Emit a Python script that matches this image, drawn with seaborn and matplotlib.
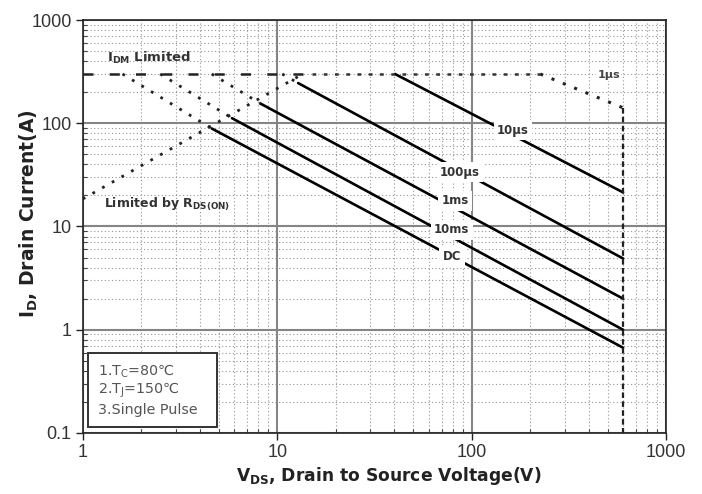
import numpy as np
import pandas as pd
import matplotlib
matplotlib.use("Agg")
import matplotlib.pyplot as plt
from matplotlib.ticker import FixedLocator, FixedFormatter, LogLocator, NullFormatter
from matplotlib.patches import Rectangle
import seaborn as sns

# ---------------- data ----------------
pulse_labels = ["10µs", "100µs", "1ms", "10ms", "DC"]
start_v = [40.3, 12.8, 8.2, 5.85, 4.6]
start_i = [300, 245, 155, 112, 89]
end_v = [600, 600, 600, 600, 600]
end_i = [21.4, 4.9, 2.0, 1.0, 0.67]
ext_v = [40.3, 10.6, 4.6, 2.5, 1.6]          # where dotted extension meets IDM line
label_v = [163, 87, 82, 79, 79]
label_i = [86, 33.7, 17.7, 9.25, 5.07]

idm_level = 300
idm_dash_v = [1, 15]
idm_dot_v = [15, 225]
us1_v = [225, 600]
us1_i = [300, 141]
rds_v = [1, 13.5]
rds_i = [18.5, 300]
vmax_v = [600, 600]
vmax_i = [141, 0.1]

x_ticks = [1, 10, 100, 1000]
x_ticklabels = ["1", "10", "100", "1000"]
y_ticks = [0.1, 1, 10, 100, 1000]
y_ticklabels = ["0.1", "1", "10", "100", "1000"]

note_lines = ["1.T$_C$=80℃", "2.T$_J$=150℃", "3.Single Pulse"]

# ---------------- style ----------------
sns.set_style("white")
plt.rcParams["font.family"] = ["Liberation Sans", "DejaVu Sans"]
plt.rcParams["mathtext.default"] = "regular"
WIDE = "DejaVu Sans"

fig = plt.figure(figsize=(7.02, 4.94), dpi=100)
ax = fig.add_axes([0.118, 0.1235, 0.831, 0.836])
ax.set_xscale("log")
ax.set_yscale("log")
ax.set_xlim(1, 1000)
ax.set_ylim(0.1, 1000)

# grid
ax.grid(which="major", color="#858585", linewidth=1.5, linestyle="-")
ax.grid(which="minor", color="#959595", linewidth=0.8, linestyle=(0, (1, 2.2)))
ax.set_axisbelow(True)

# main SOA curves
main_df = pd.DataFrame({
    "V": [v for pair in zip(start_v, end_v) for v in pair],
    "I": [i for pair in zip(start_i, end_i) for i in pair],
    "curve": [lab for lab in pulse_labels for _ in range(2)],
})
sns.lineplot(data=main_df, x="V", y="I", units="curve", estimator=None,
             sort=False, color="black", linewidth=1.9, ax=ax, legend=False)

# dotted extensions to the IDM line
ext_df = pd.DataFrame({
    "V": [v for pair in zip(ext_v, start_v) for v in pair],
    "I": [i for pair in zip([idm_level] * len(ext_v), start_i) for i in pair],
    "curve": [lab for lab in pulse_labels for _ in range(2)],
})
sns.lineplot(data=ext_df, x="V", y="I", units="curve", estimator=None,
             sort=False, color="#222222", linewidth=2.0,
             linestyle=(0, (1, 3)), ax=ax, legend=False)

def seg(xs, ys, **kw):
    sns.lineplot(x=xs, y=ys, estimator=None, sort=False, ax=ax,
                 legend=False, **kw)

# IDM limit
seg(idm_dash_v, [idm_level] * 2, color="#222222", linewidth=1.8,
    linestyle=(0, (4, 6.5)))
seg(idm_dot_v, [idm_level] * 2, color="#333333", linewidth=1.8,
    linestyle=(0, (1.5, 3)))
# 1 µs curve
seg(us1_v, us1_i, color="#222222", linewidth=2.2, linestyle=(0, (1, 3)))
# RDS(on) limit
seg(rds_v, rds_i, color="#222222", linewidth=2.0, linestyle=(0, (1, 3)))
# VDS max
seg(vmax_v, vmax_i, color="#222222", linewidth=1.6, linestyle=(0, (2.5, 1.5)))

# curve labels
for lab, lv, li in zip(pulse_labels, label_v, label_i):
    ax.text(lv, li, lab, ha="center", va="center", fontsize=8.5,
            family=WIDE, fontweight="bold", color="#333333", zorder=5,
            bbox=dict(facecolor="white", edgecolor="none", pad=2.5))
ax.text(505, 293, "1µs", ha="center", va="center", fontsize=8,
        family=WIDE, fontweight="bold", color="#444444", zorder=5,
        bbox=dict(facecolor="white", edgecolor="none", pad=1))

ax.text(1.33, 430, "I$_{DM}$ Limited", ha="left", va="center", fontsize=9.5,
        family=WIDE, fontweight="bold", color="#333333", zorder=5)
ax.text(1.28, 16.2, "Limited by R$_{DS(ON)}$", ha="left", va="center",
        fontsize=9, family=WIDE, fontweight="bold", color="#333333",
        zorder=5)

# note box
ax.add_patch(Rectangle((0.0086, 0.0145), 0.222, 0.18, transform=ax.transAxes,
                       facecolor="white", edgecolor="#333333", linewidth=1.4,
                       zorder=6))
for k, line in enumerate(note_lines):
    ax.text(0.026, 0.150 - k * 0.047, line, transform=ax.transAxes,
            ha="left", va="center", fontsize=10.3, family=WIDE,
            color="#555555", zorder=7)

# ticks
ax.xaxis.set_major_locator(FixedLocator(x_ticks))
ax.xaxis.set_major_formatter(FixedFormatter(x_ticklabels))
ax.yaxis.set_major_locator(FixedLocator(y_ticks))
ax.yaxis.set_major_formatter(FixedFormatter(y_ticklabels))
ax.xaxis.set_minor_locator(LogLocator(base=10, subs=np.arange(2, 10)))
ax.yaxis.set_minor_locator(LogLocator(base=10, subs=np.arange(2, 10)))
ax.xaxis.set_minor_formatter(NullFormatter())
ax.yaxis.set_minor_formatter(NullFormatter())
ax.tick_params(which="major", direction="out", length=5, width=1,
               labelsize=13, labelcolor="#333333", color="#222222", pad=3,
               bottom=True, left=True)
ax.tick_params(which="minor", direction="in", length=3, width=0.8,
               color="#444444", bottom=True, left=True)

for s in ax.spines.values():
    s.set_color("#222222")
    s.set_linewidth(1.2)

ax.set_xlabel("V$_{DS}$, Drain to Source Voltage(V)", fontsize=12.3,
              family=WIDE, fontweight="bold", color="#222222")
ax.set_ylabel("I$_D$, Drain Current(A)", fontsize=13.5, family=WIDE,
              fontweight="bold", color="#222222")
ax.xaxis.set_label_coords(0.525, -0.077)
ax.yaxis.set_label_coords(-0.073, 0.531)

fig.savefig("out.png", dpi=100)
